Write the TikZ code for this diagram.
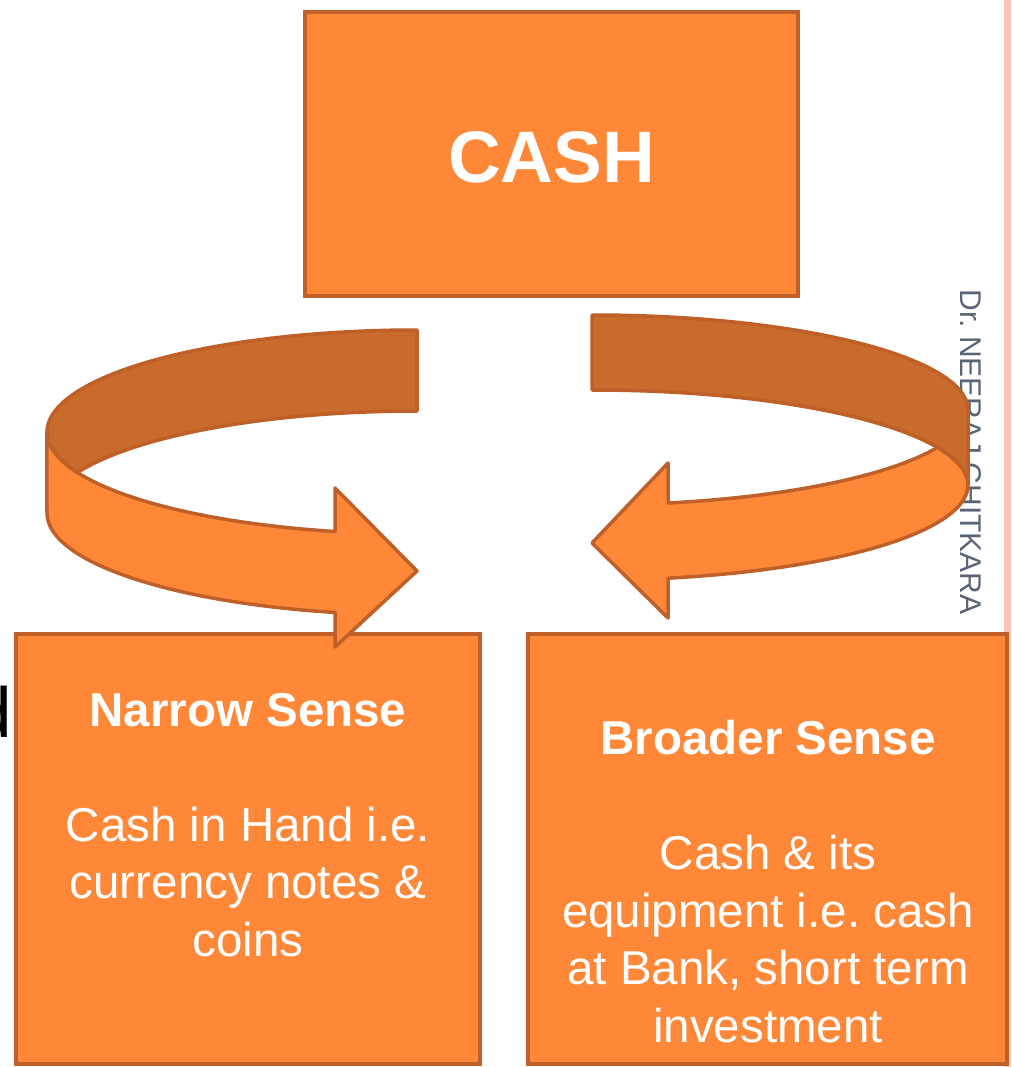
\documentclass[tikz,border=0pt]{standalone}
\usepackage{fontspec}
\setmainfont{Liberation Sans}
\frenchspacing
\definecolor{cashfill}{RGB}{254,136,56}
\definecolor{cashback}{RGB}{200,107,44}
\definecolor{cashline}{RGB}{190,96,40}
\definecolor{stripcol}{RGB}{250,198,180}
\definecolor{namecol}{RGB}{90,100,116}
\tikzset{
  box/.style={draw=cashline, fill=cashfill, line width=4pt, inner sep=0pt},
  front/.style={draw=cashline, fill=cashfill, line width=3.5pt, line join=round},
  back/.style={draw=cashline, fill=cashback, line width=3.5pt, line join=round},
  boxtext/.style={text=white, align=center, inner sep=0pt, anchor=base,
    font=\fontsize{47.5}{57.5}\selectfont},
}

\begin{document}
\begin{tikzpicture}[x=1pt,y=-1pt]
  \useasboundingbox (0,0) rectangle (1011,1067);
  \fill[stripcol] (1004,0) rectangle (1011,1067);
  \node[anchor=base east, inner sep=0pt, font=\fontsize{71}{80}\selectfont] (cut) at (12,737) {d};
  \node[rotate=-90, text=namecol, inner sep=0pt, font=\fontsize{30}{36}\selectfont] (author) at (971,452) {Dr. NEERAJ CHITKARA};

  \node[box, minimum width=493pt, minimum height=284pt] (cash) at (551.5,154) {};
  \node[box, minimum width=464pt, minimum height=430pt] (narrow) at (248,849) {};
  \node[box, minimum width=479pt, minimum height=430pt] (broad) at (767.5,849) {};

  \node[text=white, anchor=base, inner sep=0pt, font=\fontsize{73}{88}\selectfont\bfseries] (cashtext) at (551.5,183) {CASH};
  \node[boxtext] (narrowtext) at (248,956) {\textbf{Narrow Sense}\\[57.5pt]
    Cash in Hand i.e.\\ currency notes \&\\ coins};
  \node[boxtext] (broadtext) at (768,1042) {\textbf{Broader Sense}\\[57.5pt]
    Cash \& its\\ equipment i.e. cash\\ at Bank, short term\\ investment};

  \draw[back] (417,330) arc[start angle=270, end angle=156.6, x radius=370, y radius=102]
    arc[start angle=203.4, end angle=270, x radius=370, y radius=102] -- cycle;
  \draw[front] (335,531.5) arc[start angle=102.8, end angle=180, x radius=370, y radius=102]
    -- (47,513) arc[start angle=180, end angle=102.8, x radius=370, y radius=102]
    -- (335,647) -- (417,571) -- (335,488) -- cycle;

  \draw[back] (592,315) arc[start angle=-90, end angle=0, x radius=376, y radius=95]
    -- (968,485) arc[start angle=0, end angle=-90, x radius=376, y radius=95] -- cycle;
  \draw[front] (668.2,503) arc[start angle=78.3, end angle=23.3, x radius=376, y radius=95]
    arc[start angle=-23.3, end angle=0, x radius=376, y radius=95]
    arc[start angle=0, end angle=78.3, x radius=376, y radius=95]
    -- (668,618) -- (592,543) -- (668,463) -- cycle;
\end{tikzpicture}
\end{document}
